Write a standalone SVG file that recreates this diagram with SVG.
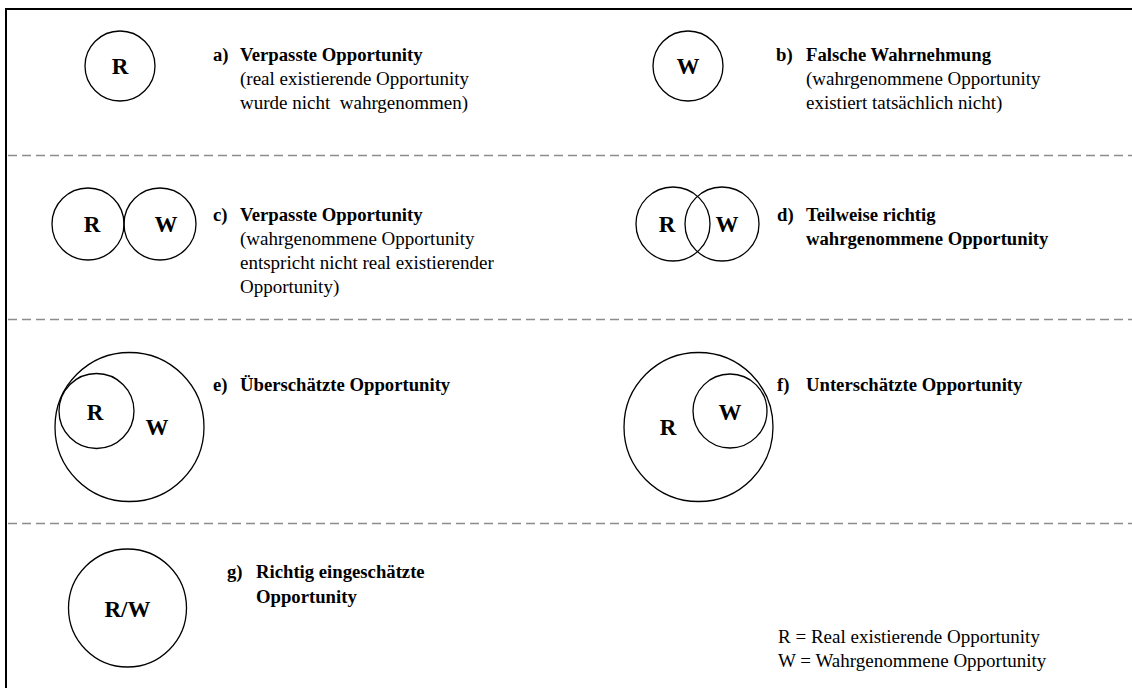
<svg xmlns="http://www.w3.org/2000/svg" width="1132" height="688" viewBox="0 0 1132 688">
  <style>
    .c { fill: none; stroke: #000; stroke-width: 1.3; }
    .lbl { font-family: "Liberation Serif", "Times New Roman", serif; font-weight: bold; font-size: 23px; text-anchor: middle; fill: #000; }
    .t { font-family: "Liberation Serif", "Times New Roman", serif; font-size: 19px; fill: #000; }
    .b { font-weight: bold; font-size: 18.7px; }
    .dash { stroke: #8c8c8c; stroke-width: 1.5; stroke-dasharray: 9 5; }
    .frame { stroke: #000; stroke-width: 2; fill: none; }
  </style>
  <rect x="0" y="0" width="1132" height="688" fill="#fff"/>
  <g id="frame">
    <line class="frame" x1="5" y1="9" x2="1132" y2="9"/>
    <line class="frame" x1="6" y1="8" x2="6" y2="688"/>
  </g>
  <g id="separators">
    <line class="dash" x1="8" y1="155.5" x2="1132" y2="155.5"/>
    <line class="dash" x1="8" y1="319.5" x2="1132" y2="319.5"/>
    <line class="dash" x1="8" y1="523.5" x2="1132" y2="523.5"/>
  </g>

  <g id="panel-a">
    <circle class="c" cx="120" cy="66" r="35"/>
    <text class="lbl" x="120" y="74">R</text>
    <text class="t b" x="213" y="61">a)</text>
    <text class="t b" x="240" y="61">Verpasste Opportunity</text>
    <text class="t" x="240" y="85">(real existierende Opportunity</text>
    <text class="t" x="240" y="109" xml:space="preserve">wurde nicht  wahrgenommen)</text>
  </g>

  <g id="panel-b">
    <circle class="c" cx="688" cy="66" r="35"/>
    <text class="lbl" x="688" y="74">W</text>
    <text class="t b" x="776" y="61">b)</text>
    <text class="t b" x="806" y="61">Falsche Wahrnehmung</text>
    <text class="t" x="806" y="85">(wahrgenommene Opportunity</text>
    <text class="t" x="806" y="109">existiert tatsächlich nicht)</text>
  </g>

  <g id="panel-c">
    <circle class="c" cx="88" cy="224" r="36"/>
    <circle class="c" cx="160" cy="224" r="36"/>
    <text class="lbl" x="92" y="232">R</text>
    <text class="lbl" x="166" y="232">W</text>
    <text class="t b" x="213" y="221">c)</text>
    <text class="t b" x="240" y="221">Verpasste Opportunity</text>
    <text class="t" x="240" y="245">(wahrgenommene Opportunity</text>
    <text class="t" x="240" y="269">entspricht nicht real existierender</text>
    <text class="t" x="240" y="293">Opportunity)</text>
  </g>

  <g id="panel-d">
    <circle class="c" cx="673" cy="224" r="37"/>
    <circle class="c" cx="722" cy="224" r="37"/>
    <text class="lbl" x="667" y="232">R</text>
    <text class="lbl" x="727" y="232">W</text>
    <text class="t b" x="777" y="221">d)</text>
    <text class="t b" x="806" y="221">Teilweise richtig</text>
    <text class="t b" x="806" y="245">wahrgenommene Opportunity</text>
  </g>

  <g id="panel-e">
    <circle class="c" cx="129.5" cy="427" r="74.5"/>
    <circle class="c" cx="96.5" cy="411" r="37.5"/>
    <text class="lbl" x="95" y="420">R</text>
    <text class="lbl" x="157" y="435">W</text>
    <text class="t b" x="213" y="391">e)</text>
    <text class="t b" x="240" y="391">Überschätzte Opportunity</text>
  </g>

  <g id="panel-f">
    <circle class="c" cx="698.5" cy="427" r="74.5"/>
    <circle class="c" cx="730" cy="411" r="37"/>
    <text class="lbl" x="668" y="435">R</text>
    <text class="lbl" x="730" y="420">W</text>
    <text class="t b" x="777" y="391">f)</text>
    <text class="t b" x="806" y="391">Unterschätzte Opportunity</text>
  </g>

  <g id="panel-g">
    <circle class="c" cx="127.5" cy="608" r="59"/>
    <text class="lbl" x="127.5" y="617">R/W</text>
    <text class="t b" x="227" y="578">g)</text>
    <text class="t b" x="256" y="578">Richtig eingeschätzte</text>
    <text class="t b" x="256" y="603">Opportunity</text>
  </g>

  <g id="legend">
    <text class="t" x="778" y="643">R = Real existierende Opportunity</text>
    <text class="t" x="778" y="667">W = Wahrgenommene Opportunity</text>
  </g>
</svg>
